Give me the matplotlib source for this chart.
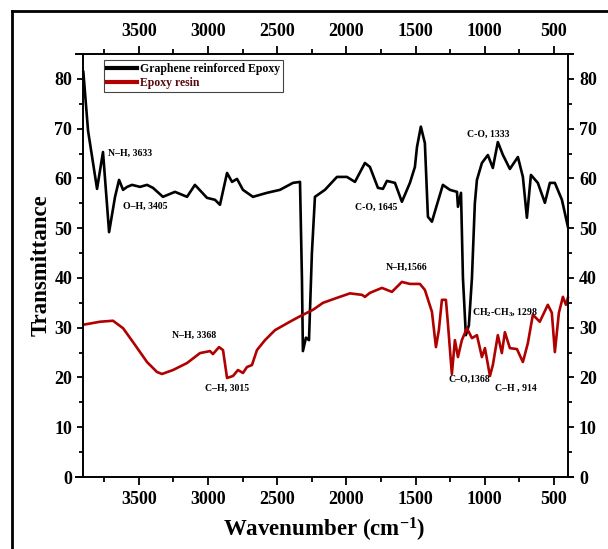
import matplotlib
matplotlib.use("Agg")
import matplotlib.pyplot as plt
from matplotlib.lines import Line2D

plt.rcParams['font.family'] = ['Liberation Serif', 'DejaVu Serif']
plt.rcParams['font.weight'] = 'bold'
plt.rcParams['mathtext.fontset'] = 'custom'
plt.rcParams['mathtext.rm'] = 'Liberation Serif:bold'
plt.rcParams['mathtext.it'] = 'Liberation Serif:bold'
plt.rcParams['mathtext.bf'] = 'Liberation Serif:bold'

# Graphene reinforced Epoxy
gr_wn = [3900, 3866, 3801, 3758, 3714, 3671, 3642, 3613, 3584, 3548, 3491, 3440, 3397, 3325,
         3238, 3151, 3094, 3007, 2949, 2913, 2862, 2826, 2790, 2747, 2675, 2574, 2480, 2386,
         2335, 2321, 2314, 2292, 2270, 2249, 2227, 2155, 2068, 1996, 1938, 1866, 1830, 1772,
         1736, 1707, 1649, 1599, 1541, 1505, 1490, 1462, 1433, 1411, 1382, 1346, 1303, 1252,
         1201, 1194, 1172, 1158, 1137, 1115, 1093, 1072, 1057, 1021, 978, 942, 906, 869, 819,
         761, 725, 696, 667, 617, 566, 530, 494, 443, 400]
gr_t = [81.4, 69.6, 57.9, 65.3, 49.2, 56.3, 59.7, 57.7, 58.3, 58.7, 58.3, 58.7, 58.1, 56.3,
        57.3, 56.3, 58.7, 56.1, 55.7, 54.7, 61.1, 59.3, 59.9, 57.7, 56.3, 57.1, 57.7, 59.1,
        59.3, 40.0, 25.3, 28.0, 27.5, 45.0, 56.3, 57.7, 60.3, 60.3, 59.3, 63.1, 62.3, 58.1,
        57.9, 59.5, 59.1, 55.3, 59.1, 62.3, 66.3, 70.4, 67.1, 52.3, 51.3, 54.7, 58.7, 57.7,
        57.3, 54.3, 57.1, 40.0, 28.5, 30.5, 40.0, 55.0, 59.7, 63.1, 64.7, 62.1, 67.3, 64.7, 61.9,
        64.3, 60.3, 52.1, 60.7, 59.1, 55.1, 59.1, 59.1, 55.7, 50.3]

# Epoxy resin
ep_wn = [3900, 3779, 3686, 3613, 3541, 3440, 3368, 3332, 3252, 3151, 3057, 2985, 2964, 2920,
         2891, 2862, 2819, 2783, 2747, 2718, 2682, 2646, 2588, 2516, 2408, 2335, 2241, 2169,
         2068, 1974, 1887, 1866, 1830, 1743, 1671, 1599, 1541, 1469, 1433, 1382, 1353, 1332,
         1310, 1281, 1267, 1238, 1216, 1194, 1166, 1129, 1093, 1057, 1021, 999, 963, 942, 906,
         877, 855, 819, 768, 725, 689, 653, 603, 545, 516, 494, 465, 436, 414, 400]
ep_t = [30.6, 31.2, 31.4, 29.9, 27.1, 23.1, 21.1, 20.7, 21.5, 22.9, 24.9, 25.3, 24.7, 26.1,
        25.5, 19.9, 20.3, 21.5, 20.9, 22.1, 22.5, 25.5, 27.5, 29.5, 31.2, 32.3, 33.6, 35.0,
        36.0, 36.9, 36.6, 36.2, 37.0, 38.0, 37.2, 39.2, 38.8, 38.8, 37.6, 33.2, 26.1, 29.5,
        35.6, 35.6, 31.0, 20.7, 27.5, 24.1, 27.5, 29.9, 27.9, 28.5, 24.1, 25.9, 20.3, 22.5, 28.5,
        24.9, 29.1, 25.9, 25.7, 23.1, 26.9, 32.6, 31.2, 34.6, 33.0, 25.1, 33.0, 36.2, 34.6, 36.0]

series_labels = ["Graphene reinforced Epoxy", "Epoxy resin"]

ann_text = ["N\u2013H, 3633", "O\u2013H, 3405", "C-O, 1645", "C-O, 1333", "N\u2013H, 3368",
            "C\u2013H, 3015", "N\u2013H,1566", "CH$_2$-CH$_3$, 1298", "C\u2013O,1368", "C\u2013H , 914"]
ann_x = [3721, 3613, 1938, 1130, 3259, 3020, 1713, 1093, 1260, 927]
ann_y = [65.1, 54.3, 54.1, 68.9, 28.5, 17.9, 42.2, 33.2, 19.7, 17.9]

x_major = [3500, 3000, 2500, 2000, 1500, 1000, 500]
x_minor = [3750, 3250, 2750, 2250, 1750, 1250, 750]
y_major = [0, 10, 20, 30, 40, 50, 60, 70, 80]
y_minor = [5, 15, 25, 35, 45, 55, 65, 75]

fig = plt.figure(figsize=(6.08, 5.49), dpi=100)
ax = fig.add_axes([76/608, 1-477/549, 497/608, 423/549])

ax.plot(gr_wn, gr_t, color='black', lw=1.9, solid_joinstyle='round')
ax.plot(ep_wn, ep_t, color='#b00000', lw=1.9, solid_joinstyle='round')

ax.set_xlim(3953, 363)
ax.set_ylim(0, 85)
ax.spines['left'].set_position(('data', 3900))
ax.spines['right'].set_position(('data', 400))
for s in ax.spines.values():
    s.set_linewidth(1.4)

ax.set_xticks(x_major)
ax.set_yticks(y_major)
ax.set_xticks(x_minor, minor=True)
ax.set_yticks(y_minor, minor=True)

ax.tick_params(axis='x', which='both', direction='out', top=True, bottom=True,
               labeltop=True, labelbottom=True, labelsize=13, width=1.3)
ax.tick_params(axis='y', which='both', direction='out', left=True, right=True,
               labelleft=True, labelright=True, labelsize=13, width=1.3)
ax.tick_params(axis='x', which='major', length=6, pad=4)
ax.tick_params(axis='x', which='minor', length=3.5)
ax.tick_params(axis='y', which='major', length=4, pad=4)
ax.tick_params(axis='y', which='minor', length=3)
for lab in ax.get_xticklabels() + ax.get_yticklabels():
    lab.set_fontweight('bold')

ax.set_xlabel("Wavenumber (cm$^{-1}$)", fontsize=16.5, fontweight='bold', labelpad=6)
ax.set_ylabel("Transmittance", fontsize=16.5, fontweight='bold', labelpad=2)

for t, x, y in zip(ann_text, ann_x, ann_y):
    ax.text(x, y, t, fontsize=7, fontweight='bold', ha='left', va='center')

handles = [Line2D([], [], color='black', lw=3), Line2D([], [], color='#b00000', lw=3)]
leg = ax.legend(handles, series_labels, loc='upper left', bbox_to_anchor=(0.056, 0.986),
                borderaxespad=0, fancybox=False, framealpha=1, edgecolor='#444444',
                prop={'family': 'Liberation Serif', 'weight': 'bold', 'size': 8.5},
                handlelength=2.6, handletextpad=0.2, borderpad=0.25, labelspacing=0.15)
leg.get_frame().set_linewidth(0.8)
leg.get_texts()[1].set_color('#5a0a0a')

# outer frame lines of the page figure
fig.add_artist(Line2D([12/608, 12/608], [0, 1-11/549], transform=fig.transFigure, color='black', lw=2))
fig.add_artist(Line2D([12/608, 1], [1-11/549, 1-11/549], transform=fig.transFigure, color='black', lw=2))

fig.savefig("out.png", dpi=100)
